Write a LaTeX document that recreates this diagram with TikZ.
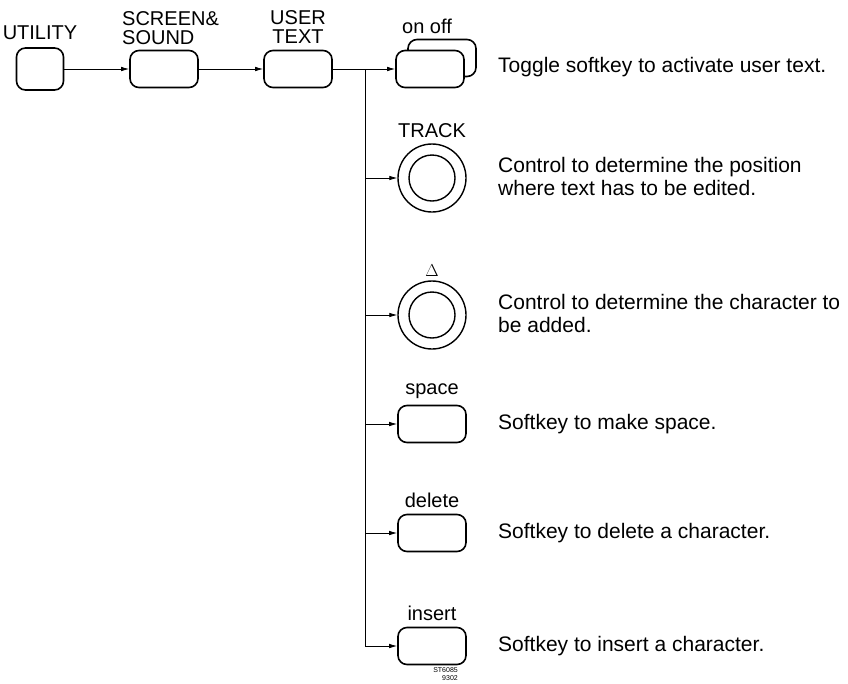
\documentclass[tikz,border=0pt]{standalone}
\usepackage{fontspec}
\setmainfont{Liberation Sans}
\usetikzlibrary{positioning,arrows.meta}

\tikzset{
  key/.style={draw, fill=white, line width=1.6pt, rounded corners=9pt,
    minimum width=68pt, minimum height=37pt},
  knob/.style={circle, draw, line width=1.4pt, minimum size=68pt, inner sep=0pt},
  knobin/.style={circle, draw, line width=1.4pt, minimum size=46pt, inner sep=0pt},
  keylabel/.style={font=\fontsize{20}{19}\selectfont, inner sep=0pt, align=center},
  desc/.style={anchor=west, font=\fontsize{21}{23}\selectfont, align=left, inner sep=0pt},
  wire/.style={line width=0.8pt},
}

\begin{document}
\begin{tikzpicture}[x=1pt, y=1pt, >={Latex[length=8pt,width=4.5pt]}]
  \useasboundingbox (0,0) rectangle (848,-683);

  % top row of keys
  \node[key, minimum width=47pt, minimum height=42pt] (utility) at (40,-69) {};
  \node[keylabel, above=7pt of utility] (utilitylbl) {UTILITY};
  \node[key] (screen) at (164,-69) {};
  \node[keylabel, align=left, anchor=south west] (screenlbl) at (122,-45) {SCREEN\&\\SOUND};
  \node[key] (user) at (298,-69) {};
  \node[keylabel, above=6pt of user] (userlbl) {USER\\TEXT};

  % toggle softkey (two keys stacked)
  \node[key] (onoffback) at (442,-58) {};
  \node[key] (onoff) at (430,-69) {};
  \node[keylabel] (onofflbl) at (427,-26) {on off};

  % controls
  \node[knob] (track) at (432,-178) {};
  \node[knobin] (trackin) at (track.center) {};
  \node[keylabel, above=5pt of track] (tracklbl) {TRACK};
  \node[knob] (delta) at (432,-315) {};
  \node[knobin] (deltain) at (delta.center) {};
  \node[keylabel, font=\fontsize{17}{17}\selectfont, above=4pt of delta] (deltalbl) {$\Delta$};

  % softkeys
  \node[key] (space) at (432,-424) {};
  \node[keylabel, above=6pt of space] (spacelbl) {space};
  \node[key] (delete) at (432,-533) {};
  \node[keylabel, above=6pt of delete] (deletelbl) {delete};
  \node[key] (insert) at (432,-646) {};
  \node[keylabel, above=6pt of insert] (insertlbl) {insert};

  \node[font=\fontsize{7}{8}\selectfont, align=right, anchor=north east, inner sep=0pt]
    (stamp) at (458,-667) {ST6085\\9302};

  % descriptions
  \node[desc] (onofftxt) at (498,-67) {Toggle softkey to activate user text.};
  \node[desc] (tracktxt) at (498,-176) {Control to determine the position\\where text has to be edited.};
  \node[desc] (deltatxt) at (498,-313) {Control to determine the character to\\be added.};
  \node[desc] (spacetxt) at (498,-424) {Softkey to make space.};
  \node[desc] (deletetxt) at (498,-533) {Softkey to delete a character.};
  \node[desc] (inserttxt) at (498,-646) {Softkey to insert a character.};

  % connections
  \coordinate (split) at (365,-69);
  \draw[wire,->] (utility) -- (screen);
  \draw[wire,->] (screen) -- (user);
  \draw[wire,->] (user) -- (onoff);
  \draw[wire,->] (split) |- (track);
  \draw[wire,->] (split) |- (delta);
  \draw[wire,->] (split) |- (space);
  \draw[wire,->] (split) |- (delete);
  \draw[wire,->] (split) |- (insert);
\end{tikzpicture}
\end{document}
